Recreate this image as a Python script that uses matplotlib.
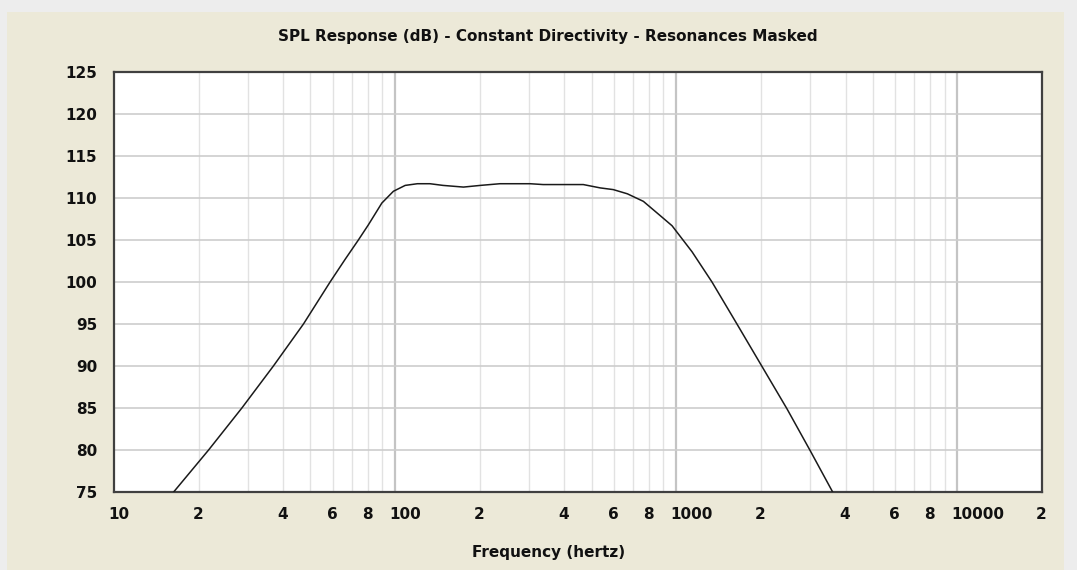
import matplotlib
matplotlib.use("Agg")
import matplotlib.pyplot as plt
from matplotlib.patches import Rectangle
from matplotlib.transforms import ScaledTranslation
from matplotlib.ticker import FixedLocator, NullFormatter

# ---- data ----
freq_hz = [16.3, 21.7, 28.5, 36.9, 47.2, 58.7, 66.4, 74.0, 80.3, 89.7, 98.6,
           108.6, 120, 133, 148, 175, 201, 236, 302, 336, 467, 537, 597, 670,
           764, 877, 966, 1138, 1340, 1644, 2018, 2477, 2998, 3614]
spl_db = [75.0, 80.0, 85.0, 90.0, 95.0, 100.0, 102.7, 105.0, 106.8, 109.4, 110.8,
          111.5, 111.7, 111.7, 111.5, 111.3, 111.5, 111.7, 111.7, 111.6, 111.6,
          111.2, 111.0, 110.5, 109.6, 107.9, 106.7, 103.6, 100.0, 95.0, 89.95,
          84.9, 79.9, 74.9]

x_ticks = [10, 20, 40, 60, 80, 100, 200, 400, 600, 800, 1000, 2000, 4000,
           6000, 8000, 10000, 20000]
x_tick_labels = ["10", "2", "4", "6", "8", "100", "2", "4", "6", "8", "1000",
                 "2", "4", "6", "8", "10000", "2"]
minor_grid = [20, 30, 40, 50, 60, 70, 80, 90,
              200, 300, 400, 500, 600, 700, 800, 900,
              2000, 3000, 4000, 5000, 6000, 7000, 8000, 9000]
decade_grid = [100, 1000, 10000]
y_ticks = [75, 80, 85, 90, 95, 100, 105, 110, 115, 120, 125]

title_text = "SPL Response (dB) - Constant Directivity - Resonances Masked"
xlabel_text = "Frequency (hertz)"

W, H = 1077, 570
fig = plt.figure(figsize=(W / 100, H / 100), dpi=100)
fig.patch.set_facecolor("#EDEDED")
fig.patches.append(Rectangle((7 / W, 0), (1064 - 7) / W, (H - 12) / H,
                             transform=fig.transFigure, facecolor="#ECE9D8",
                             edgecolor="none", zorder=-5))

L, R, T, B = 114, 1042, 72, 492
ax = fig.add_axes([L / W, (H - B) / H, (R - L) / W, (B - T) / H])
ax.set_zorder(2)
ax.set_facecolor("white")
ax.set_xscale("log")
ax.set_xlim(10, 20000)
ax.set_ylim(75, 125)

for f in minor_grid:
    ax.axvline(f, color="#E2E2E2", lw=1.0, zorder=1)
for f in decade_grid:
    ax.axvline(f, color="#C4C4C4", lw=1.6, zorder=1)
for y in y_ticks[1:-1]:
    ax.axhline(y, color="#CDCDCD", lw=1.2, zorder=1)

ax.plot(freq_hz, spl_db, color="#1A1A1A", lw=1.1, zorder=3, clip_on=True)

ax.xaxis.set_major_locator(FixedLocator(x_ticks))
ax.xaxis.set_minor_formatter(NullFormatter())
ax.set_xticks(x_ticks)
ax.set_xticklabels(x_tick_labels)
ax.set_yticks(y_ticks)
ax.set_yticklabels([str(v) for v in y_ticks])
ax.tick_params(axis="both", which="both", length=0)
ax.tick_params(axis="x", pad=10.5)
ax.tick_params(axis="y", pad=12)
for lab in ax.get_xticklabels():
    lab.set_fontweight("bold")
    lab.set_fontsize(11)
    lab.set_color("#111111")
    lab.set_ha("left")
    lab.set_transform(lab.get_transform() + ScaledTranslation(-6 / 100, 0, fig.dpi_scale_trans))
for lab in ax.get_yticklabels():
    lab.set_fontweight("bold")
    lab.set_fontsize(11)
    lab.set_color("#111111")

for s in ax.spines.values():
    s.set_color("#404040")
    s.set_linewidth(1.6)

fig.text(548 / W, 1 - 37 / H, title_text, ha="center", va="center",
         fontsize=11, fontweight="bold", color="#111111")
fig.text(549 / W, 1 - 553 / H, xlabel_text, ha="center", va="center",
         fontsize=11, fontweight="bold", color="#111111")

fig.savefig("out.png", dpi=100, facecolor=fig.get_facecolor())
